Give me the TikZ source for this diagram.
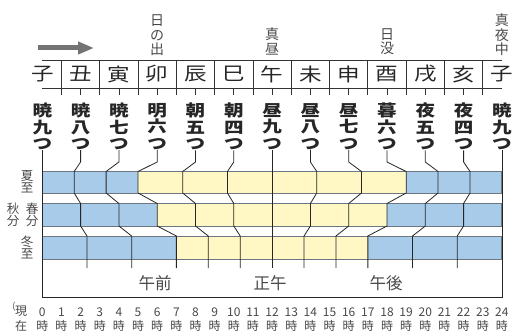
\documentclass[tikz,border=0pt]{standalone}
\usepackage{fontspec}
\usetikzlibrary{arrows.meta}
\newfontfamily\jp{Noto Sans CJK JP}
\newfontfamily\jpw[FakeStretch=1.22]{Noto Sans CJK JP}
\definecolor{dayc}{HTML}{FFF8C4}
\definecolor{nightc}{HTML}{A9CBEA}
\definecolor{edgec}{HTML}{6E7680}
\definecolor{txtg}{HTML}{484848}
\tikzset{
  zod/.style={font=\jpw\fontsize{18.5}{18.5}\selectfont, text=black!85, inner sep=0},
  lab/.style={font=\jpw\bfseries\fontsize{16}{16.5}\selectfont, text=black!85, align=center, inner sep=0, anchor=north},
  note/.style={font=\jp\fontsize{14}{14.5}\selectfont, text=txtg, align=center, inner sep=0, anchor=south},
  season/.style={font=\jp\fontsize{12.5}{12}\selectfont, text=txtg, align=center, inner sep=0},
  hr/.style={font=\jp\fontsize{12}{12}\selectfont, text=txtg, inner sep=0},
  ampm/.style={font=\jp\fontsize{16.5}{16.5}\selectfont, text=txtg, inner sep=0},
  bnd/.style={draw=black!85, line width=0.8pt},
  ruler/.style={draw=black!80, line width=0.8pt},
  baredge/.style={draw=edgec, line width=0.9pt},
}
\begin{document}
\begin{tikzpicture}[x=1pt,y=-1pt, declare function={hx(\h)=42.3+19.15*\h;}]
\useasboundingbox (0,0) rectangle (514,331);
% arrow
\draw[line width=5pt, draw=black!55, -{Triangle[length=16pt,width=12pt]}] (38,48) -- (94,48);
% top notes
\node[note] (n1) at ({hx(6)},56) {日\\の\\出};
\node[note] (n2) at ({hx(12)},55) {真\\昼};
\node[note] (n3) at ({hx(18)},55) {日\\没};
\node[note] (n4) at ({hx(24)},56) {真\\夜\\中};
% header ruler
\draw[ruler] ({hx(0)},60) -- ({hx(24)},60);
\draw[ruler] ({hx(0)},88) -- ({hx(24)},88);
\foreach \o in {1,3,...,23} \draw[ruler] ({hx(\o)},60) -- ({hx(\o)},95);
\foreach \e in {2,4,...,22} \draw[ruler] ({hx(\e)},88) -- ({hx(\e)},95);
\foreach \z [count=\i from 0] in {子,丑,寅,卯,辰,巳,午,未,申,酉,戌,亥,子}
  \node[zod] (Z\i) at ({hx(2*\i)},74) {\z};
% labels
\foreach \a/\b [count=\i from 0] in {暁/九,暁/八,暁/七,明/六,朝/五,朝/四,昼/九,昼/八,昼/七,暮/六,夜/五,夜/四,暁/九}
  \node[lab] (L\i) at ({hx(2*\i)},103) {\a\\\b\\つ};
% bars
\fill[nightc] ({hx(0)},171.5) rectangle ({hx(5)},193);
\fill[dayc] ({hx(5)},171.5) rectangle ({hx(19)},193);
\fill[nightc] ({hx(19)},171.5) rectangle ({hx(24)},193);
\draw[baredge] ({hx(0)},171.5) rectangle ({hx(24)},193);
\fill[nightc] ({hx(0)},203.5) rectangle ({hx(6)},226);
\fill[dayc] ({hx(6)},203.5) rectangle ({hx(18)},226);
\fill[nightc] ({hx(18)},203.5) rectangle ({hx(24)},226);
\draw[baredge] ({hx(0)},203.5) rectangle ({hx(24)},226);
\fill[nightc] ({hx(0)},236) rectangle ({hx(7)},259);
\fill[dayc] ({hx(7)},236) rectangle ({hx(17)},259);
\fill[nightc] ({hx(17)},236) rectangle ({hx(24)},259);
\draw[baredge] ({hx(0)},236) rectangle ({hx(24)},259);
% connectors
\foreach \i/\s/\p/\w in {1/1.6667/2/2.3333, 2/3.3333/4/4.6667, 3/5/6/7, 4/7.3333/8/8.6667,
  5/9.6667/10/10.3333, 6/12/12/12, 7/14.3333/14/13.6667, 8/16.6667/16/15.3333,
  9/19/18/17, 10/20.6667/20/19.3333, 11/22.3333/22/21.6667}
  \draw[bnd] (L\i.south) -- ({hx(2*\i)},162) -- ({hx(\s)},171.5) -- ({hx(\s)},193)
     -- ({hx(\p)},203.5) -- ({hx(\p)},226) -- ({hx(\w)},236) -- ({hx(\w)},268);
% frame
\draw[bnd] (L0.south) -- ({hx(0)},297) -- ({hx(24)},297) -- (L12.south);
% season labels
\node[season] (s1) at (27,182) {夏\\至};
\node[season] (s2) at (13,215) {秋\\分};
\node[season] (s3) at (32,215) {春\\分};
\node[season] (s4) at (27,247.5) {冬\\至};
% am pm
\node[ampm] (am) at (155,283) {午前};
\node[ampm] (nn) at (270,283) {正午};
\node[ampm] (pm) at (386,283) {午後};
% bottom hours
\node[season, font=\jp\fontsize{12}{14.5}\selectfont] (now) at (21,318.5) {現\\在};
\node[hr, font=\jp\fontsize{9}{9}\selectfont] (par) at (14,307) {(};
\foreach \h in {0,...,24}{
  \node[hr] (H\h) at ({hx(\h)},312) {\h};
  \node[hr] (J\h) at ({hx(\h)},325.5) {時};
}
\end{tikzpicture}
\end{document}
